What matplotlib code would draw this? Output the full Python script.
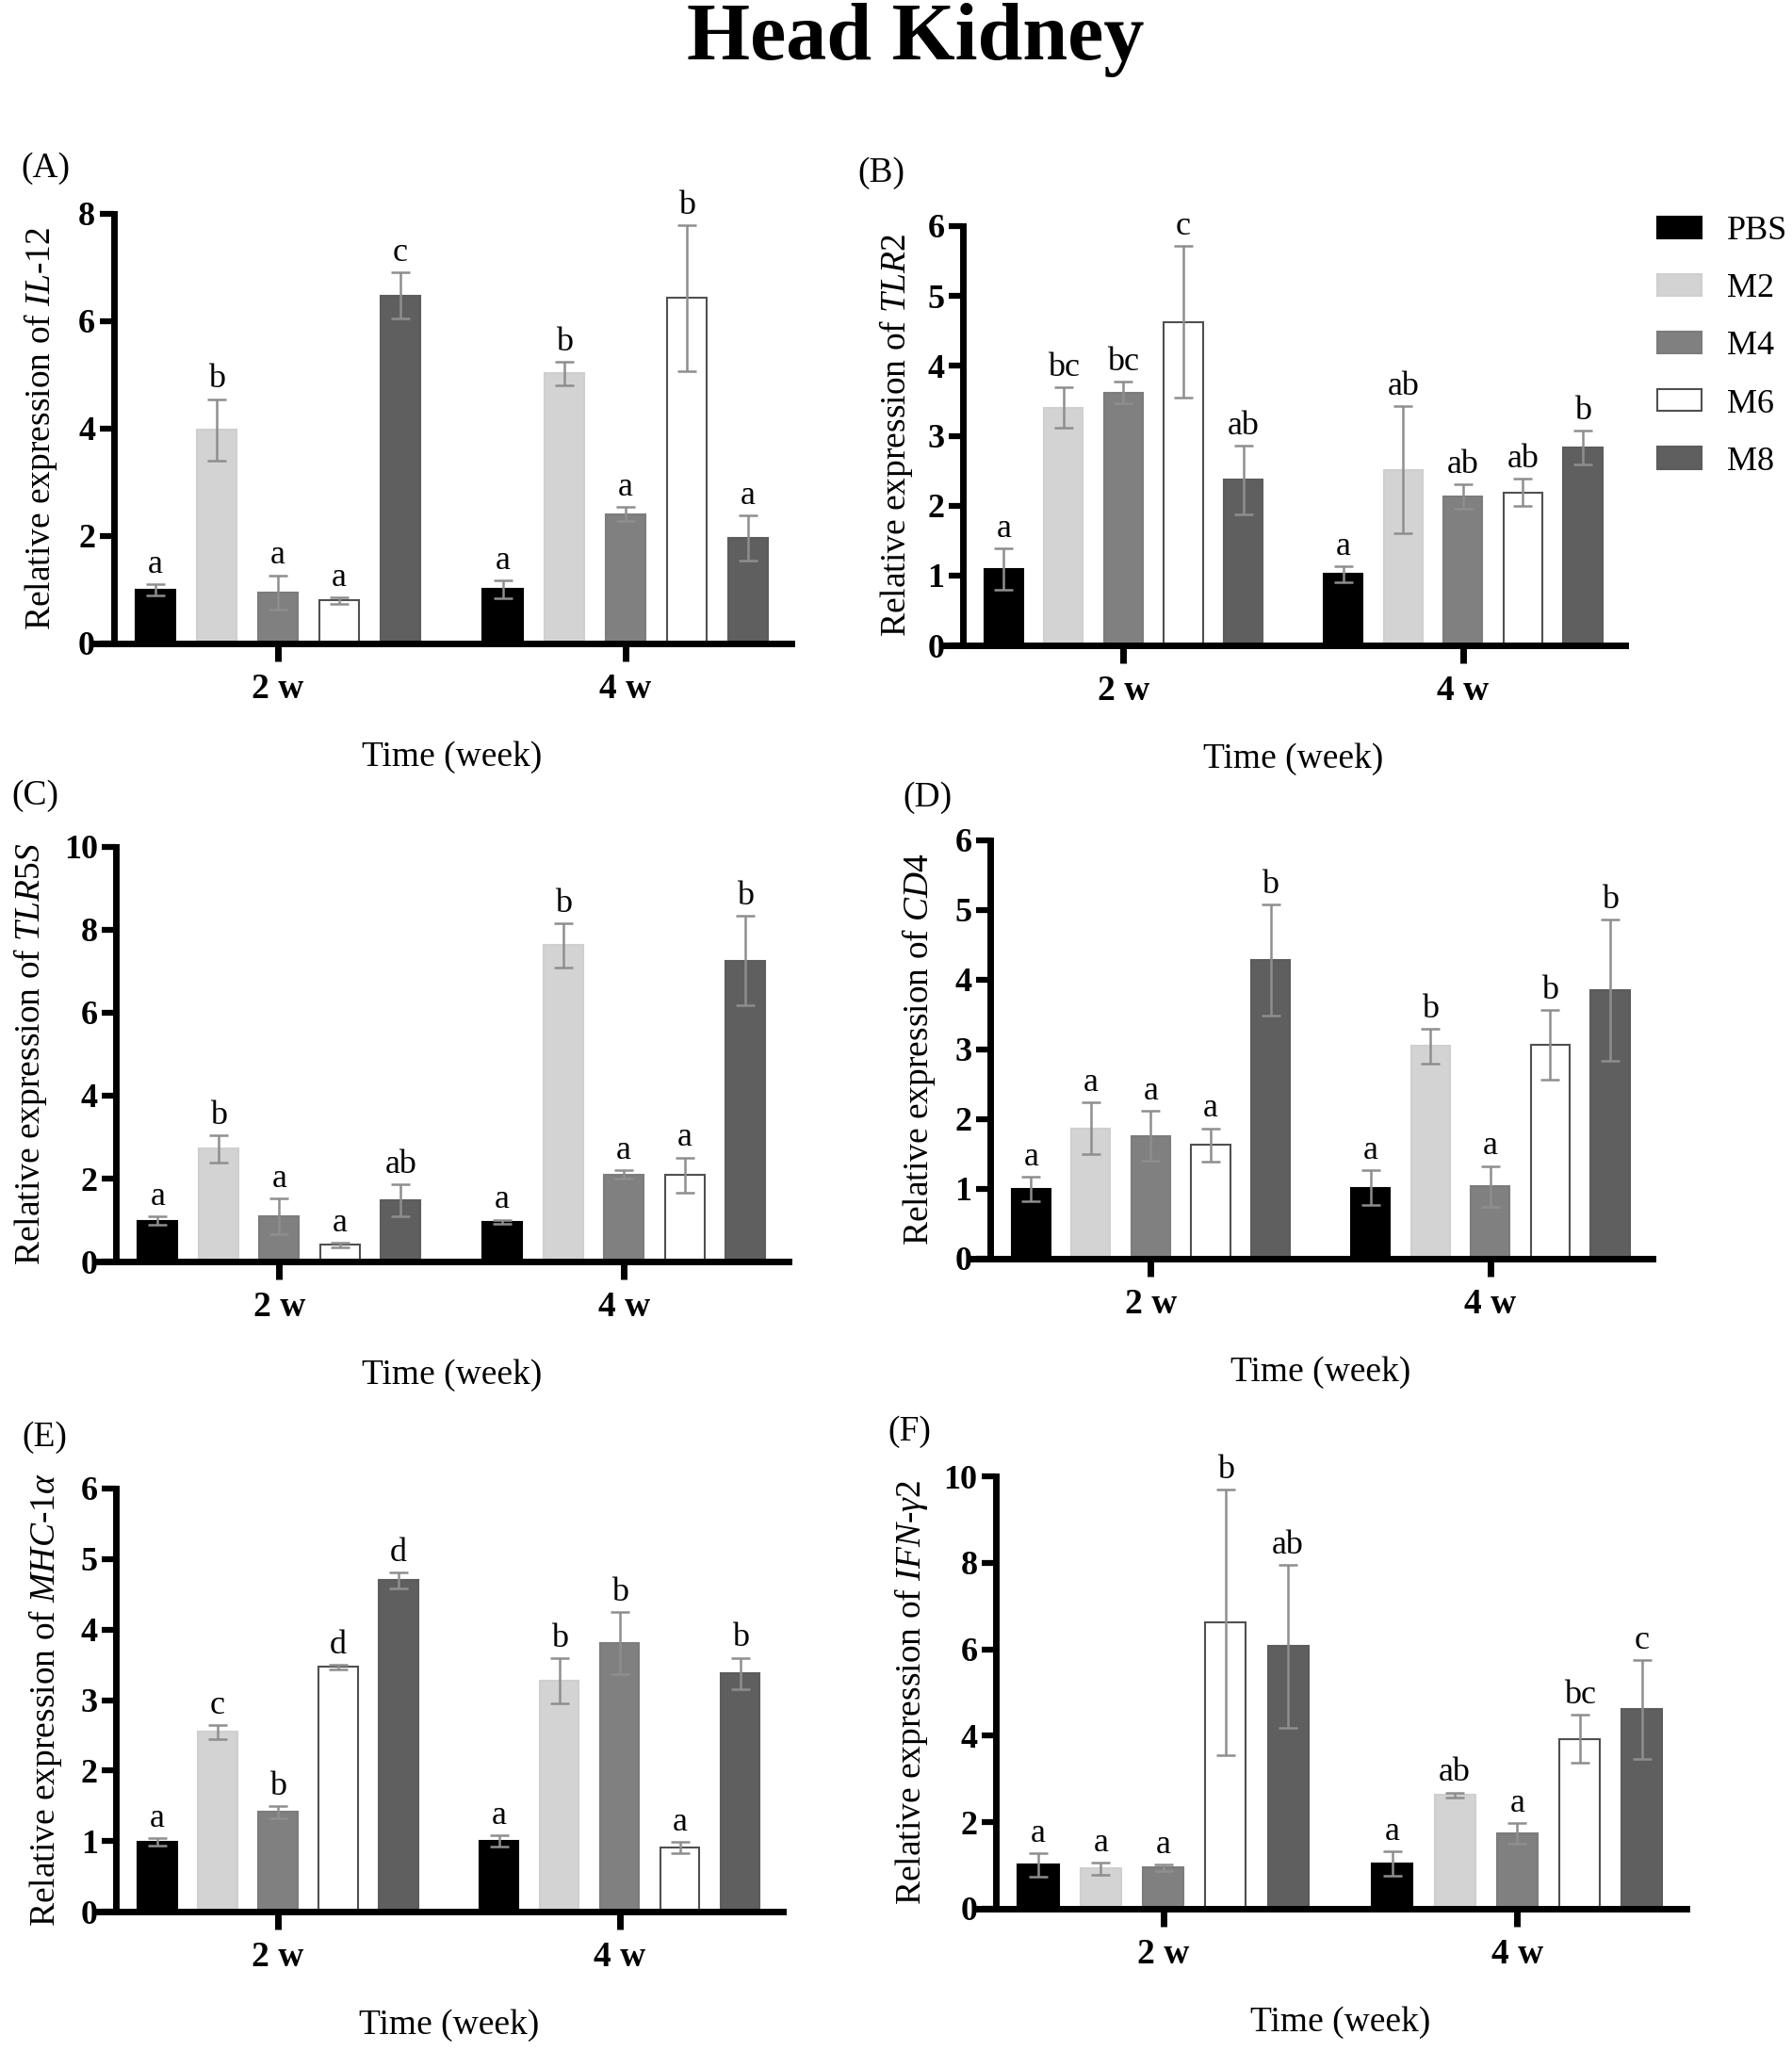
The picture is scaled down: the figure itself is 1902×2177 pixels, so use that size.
import numpy as np
import matplotlib
matplotlib.use("Agg")
from matplotlib import pyplot as plt

plt.rcParams["font.family"] = ["Liberation Serif", "DejaVu Serif"]
plt.rcParams["mathtext.fontset"] = "custom"
plt.rcParams["mathtext.rm"] = "Liberation Serif"
plt.rcParams["mathtext.it"] = "Liberation Serif:italic"
plt.rcParams["mathtext.bf"] = "Liberation Serif:bold"

groups = ["PBS", "M2", "M4", "M6", "M8"]
weeks = ["2 w", "4 w"]

# order: PBS, M2, M4, M6, M8 at 2 w, then the same at 4 w
il12_mean = [1.00, 3.98, 0.95, 0.80, 6.48, 1.01, 5.03, 2.41, 6.43, 1.96]
il12_err = [0.11, 0.57, 0.32, 0.06, 0.43, 0.17, 0.22, 0.13, 1.36, 0.42]
il12_sig = ["a", "b", "a", "a", "c", "a", "b", "a", "b", "a"]

tlr2_mean = [1.09, 3.40, 3.62, 4.63, 2.37, 1.02, 2.51, 2.13, 2.19, 2.83]
tlr2_err = [0.30, 0.29, 0.15, 1.09, 0.49, 0.11, 0.91, 0.17, 0.19, 0.24]
tlr2_sig = ["a", "bc", "bc", "c", "ab", "a", "ab", "ab", "ab", "b"]

tlr5s_mean = [0.98, 2.72, 1.10, 0.40, 1.47, 0.96, 7.63, 2.10, 2.08, 7.26]
tlr5s_err = [0.10, 0.33, 0.43, 0.05, 0.39, 0.05, 0.53, 0.10, 0.43, 1.07]
tlr5s_sig = ["a", "b", "a", "a", "ab", "a", "b", "a", "a", "b"]

cd4_mean = [1.00, 1.87, 1.76, 1.63, 4.28, 1.02, 3.05, 1.04, 3.07, 3.85]
cd4_err = [0.18, 0.37, 0.36, 0.24, 0.80, 0.25, 0.25, 0.29, 0.50, 1.01]
cd4_sig = ["a", "a", "a", "a", "b", "a", "b", "a", "b", "b"]

mhc_mean = [0.99, 2.55, 1.41, 3.47, 4.70, 1.00, 3.27, 3.81, 0.91, 3.38]
mhc_err = [0.05, 0.10, 0.09, 0.03, 0.11, 0.08, 0.32, 0.44, 0.08, 0.22]
mhc_sig = ["a", "c", "b", "d", "d", "a", "b", "b", "a", "b"]

ifn_mean = [1.02, 0.93, 0.95, 6.62, 6.07, 1.04, 2.63, 1.74, 3.93, 4.61]
ifn_err = [0.27, 0.14, 0.07, 3.07, 1.88, 0.28, 0.06, 0.24, 0.56, 1.14]
ifn_sig = ["a", "a", "a", "b", "ab", "a", "ab", "a", "bc", "c"]

genes = [r"$\mathit{IL}$-$\mathit{12}$", r"$\mathit{TLR2}$", r"$\mathit{TLR5S}$",
         r"$\mathit{CD4}$", r"$\mathit{MHC}$-$\mathit{1\alpha}$",
         r"$\mathit{IFN}$-$\mathit{\gamma 2}$"]
panel_tags = ["(A)", "(B)", "(C)", "(D)", "(E)", "(F)"]
y_max = [8, 6, 10, 6, 6, 10]
y_step = [2, 1, 2, 1, 1, 2]

means = [il12_mean, tlr2_mean, tlr5s_mean, cd4_mean, mhc_mean, ifn_mean]
errs = [il12_err, tlr2_err, tlr5s_err, cd4_err, mhc_err, ifn_err]
sigs = [il12_sig, tlr2_sig, tlr5s_sig, cd4_sig, mhc_sig, ifn_sig]

fill = ["#000000", "#d3d3d3", "#808080", "#ffffff", "#5f5f5f"]
edge = ["#000000", "#cfcfcf", "#7c7c7c", "#505050", "#5c5c5c"]
err_col = "#8e8e8e"

W, H = 1902, 2177
# left, right, top, bottom in pixels
boxes = [(101, 840, 227, 683), (1003, 1725, 240, 685),
         (104, 837, 899, 1339), (1032, 1754, 892, 1336),
         (104, 831, 1580, 2029), (1037, 1790, 1567, 2026)]
tag_pos = [(22, 179), (910, 184), (12, 845), (958, 847), (23, 1526), (942, 1520)]
ylab_off = [56, 51, 66, 55, 54, 65]

fig = plt.figure(figsize=(W / 100, H / 100), dpi=100)
fig.text(972 / W, 1 - 42 / H, "Head Kidney", ha="center", va="center",
         fontsize=62, fontweight="bold")

gap = 5.67
spine_x = -0.68
bw = 0.65
handles = []
for k in range(6):
    l, r, t, b = boxes[k]
    ax = fig.add_axes([l / W, 1 - b / H, (r - l) / W, (b - t) / H])
    m = np.array(means[k])
    e = np.array(errs[k])
    for j in range(5):
        xs = [j, j + gap]
        bars = ax.bar(xs, [m[j], m[5 + j]], width=bw, color=fill[j],
                      edgecolor=edge[j], linewidth=1.5, zorder=2)
        ax.errorbar(xs, [m[j], m[5 + j]], yerr=[e[j], e[5 + j]], fmt="none",
                    ecolor=err_col, elinewidth=1.8, capsize=7.5, capthick=1.8,
                    zorder=3)
        if k == 1:
            handles.append(bars)
        for i, x in enumerate(xs):
            idx = j + 5 * i
            ax.annotate(sigs[k][idx], xy=(x, m[idx] + e[idx]), xytext=(0, 3),
                        textcoords="offset points", ha="center", va="bottom",
                        fontsize=26)
    ax.set_xlim(-0.98, 10.38)
    ax.set_ylim(0, y_max[k])
    ax.set_yticks(np.arange(0, y_max[k] + 0.1, y_step[k]))
    ax.set_xticks([2, 2 + gap])
    ax.set_xticklabels(weeks)
    for s in ["top", "right"]:
        ax.spines[s].set_visible(False)
    ax.spines["left"].set_position(("data", spine_x))
    ax.spines["left"].set_linewidth(5)
    ax.spines["bottom"].set_linewidth(5)
    ax.tick_params(axis="y", length=11, width=4.5, pad=3, labelsize=26)
    ax.tick_params(axis="x", length=14, width=5, pad=8, labelsize=27)
    for lab in ax.get_xticklabels() + ax.get_yticklabels():
        lab.set_fontweight("bold")
    ax.annotate("Relative expression of " + genes[k], xy=(spine_x, 0.5),
                xycoords=("data", "axes fraction"), xytext=(-ylab_off[k], 0),
                textcoords="offset points", rotation=90, ha="center",
                va="center", fontsize=27)
    ax.annotate("Time (week)", xy=((4 + gap) / 2, 0),
                xycoords=("data", "axes fraction"), xytext=(0, -87),
                textcoords="offset points", ha="center", va="center",
                fontsize=27)
    fig.text(tag_pos[k][0] / W, 1 - tag_pos[k][1] / H, panel_tags[k],
             ha="left", va="center", fontsize=27)

fig.legend(handles, groups, loc="upper left",
           bbox_to_anchor=(1759 / W, 1 - 229 / H), frameon=False,
           borderpad=0, borderaxespad=0, fontsize=26, handlelength=1.3,
           handleheight=0.61, handletextpad=0.75, labelspacing=0.78)

fig.savefig("out.png", dpi=100)
